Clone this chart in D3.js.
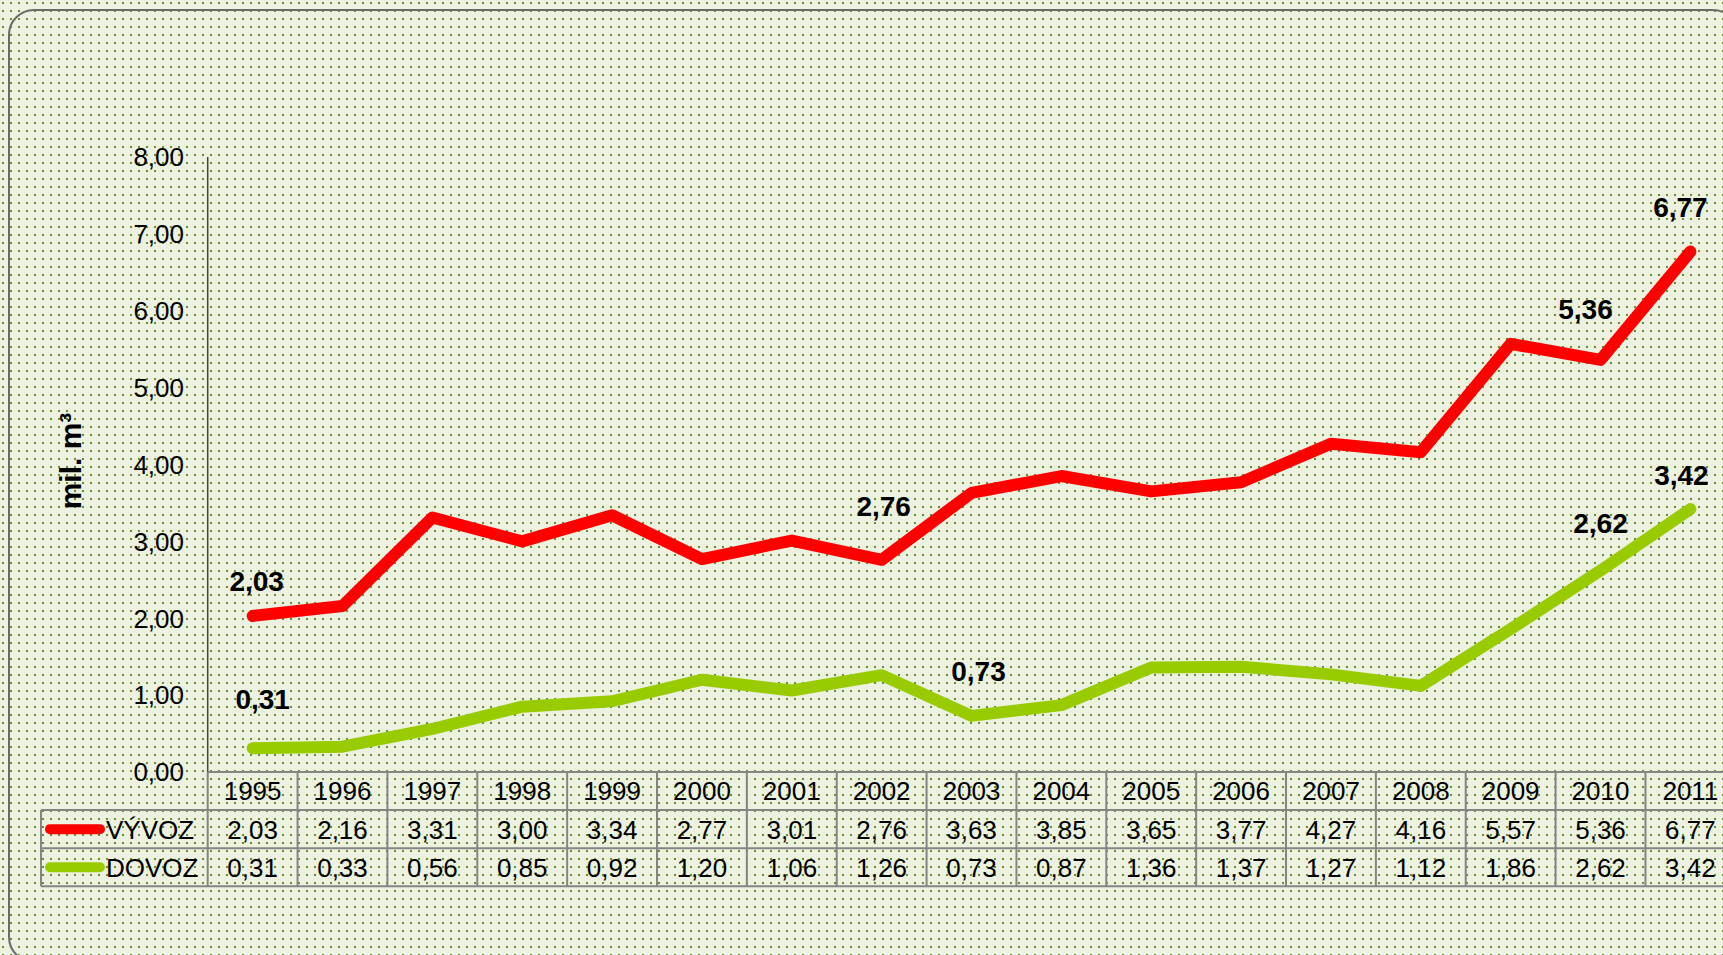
<!DOCTYPE html>
<html>
<head>
<meta charset="utf-8">
<script src="https://cdn.jsdelivr.net/npm/d3@7"></script>
<style>
  html, body { margin: 0; padding: 0; background: #ecf1e0; overflow: hidden; }
  svg { display: block; font-family: 'Liberation Sans', Arial, sans-serif; }
</style>
</head>
<body>
<div class="chart"></div>
<script>
const years = ['1995', '1996', '1997', '1998', '1999', '2000', '2001', '2002', '2003',
  '2004', '2005', '2006', '2007', '2008', '2009', '2010', '2011']
const vyvoz = [2.03, 2.16, 3.31, 3.00, 3.34, 2.77, 3.01, 2.76, 3.63, 3.85, 3.65, 3.77, 4.27, 4.16, 5.57, 5.36, 6.77]
const dovoz = [0.31, 0.33, 0.56, 0.85, 0.92, 1.20, 1.06, 1.26, 0.73, 0.87, 1.36, 1.37, 1.27, 1.12, 1.86, 2.62, 3.42]
const seriesNames = ['VÝVOZ', 'DOVOZ']
const yTicks = [0, 1, 2, 3, 4, 5, 6, 7, 8]
const yTitle = 'mil. m³'
// years that carry a bold value label, per series
const vyvozLabelYears = ['1995', '2002', '2010', '2011']
const dovozLabelYears = ['1995', '2003', '2010', '2011']

// label placement (hand-moved labels in the original), [dx, dy] from the point
const labelNudge = {
  'VÝVOZ-1995': [4, -35], 'VÝVOZ-2002': [2, -54], 'VÝVOZ-2010': [-15, -51], 'VÝVOZ-2011': [-10, -45],
  'DOVOZ-1995': [10, -49], 'DOVOZ-2003': [7, -45], 'DOVOZ-2010': [0, -48], 'DOVOZ-2011': [-9, -34]
}

const width = 1723
const height = 955
const plotLeft = 207.7
const colW = 89.86
const plotTop = 157
const plotBottom = 772
const rowH = 38.1
const fs = 26

const locale = d3.formatLocale({ decimal: ',', thousands: ' ', grouping: [3], currency: ['', ''] })
const fmt = locale.format('.2f')

const series = [
  { name: seriesNames[0], values: vyvoz, color: '#ff0000', labels: vyvozLabelYears },
  { name: seriesNames[1], values: dovoz, color: '#99cc00', labels: dovozLabelYears }
]

const x = d3.scaleBand().domain(years).range([plotLeft, plotLeft + colW * years.length]).padding(0)
const y = d3.scaleLinear().domain([0, 8]).range([plotBottom, plotTop])

const svg = d3.select('.chart').append('svg')
  .attr('width', width)
  .attr('height', height)

// dotted background
const pat = svg.append('defs').append('pattern')
  .attr('id', 'dots')
  .attr('patternUnits', 'userSpaceOnUse')
  .attr('width', 8)
  .attr('height', 8)
pat.append('rect').attr('width', 8).attr('height', 8).attr('fill', '#ecf1e0')
pat.append('rect').attr('x', 2).attr('y', 2).attr('width', 2).attr('height', 2).attr('fill', '#6b8c2e')

svg.append('rect')
  .attr('width', width)
  .attr('height', height)
  .attr('fill', 'url(#dots)')

svg.append('rect')
  .attr('x', 9)
  .attr('y', 10)
  .attr('width', 1729)
  .attr('height', 952)
  .attr('rx', 25)
  .attr('fill', 'none')
  .attr('stroke', '#6a6a6a')
  .attr('stroke-width', 2)

// y axis
const yAxis = svg.append('g')
yAxis.append('line')
  .attr('x1', plotLeft).attr('x2', plotLeft)
  .attr('y1', y(8)).attr('y2', y(0))
  .attr('stroke', '#444')
  .attr('stroke-width', 1.5)
yAxis.selectAll('text')
  .data(yTicks)
  .enter().append('text')
  .attr('x', 184)
  .attr('y', (d) => y(d) + fs * 0.36)
  .attr('text-anchor', 'end')
  .attr('font-size', fs)
  .text((d) => fmt(d))

svg.append('text')
  .attr('transform', 'translate(81,461) rotate(-90)')
  .attr('text-anchor', 'middle')
  .attr('font-size', 30)
  .attr('font-weight', 'bold')
  .text(yTitle)

// data table
const table = svg.append('g')
  .attr('stroke', '#858585')
  .attr('stroke-width', 2)
const tableRight = x.range()[1]
table.append('line')
  .attr('x1', plotLeft).attr('x2', tableRight)
  .attr('y1', plotBottom).attr('y2', plotBottom)
for (let r = 1; r <= 3; r++) {
  table.append('line')
    .attr('x1', 41).attr('x2', tableRight)
    .attr('y1', plotBottom + rowH * r).attr('y2', plotBottom + rowH * r)
}
table.append('line')
  .attr('x1', 41).attr('x2', 41)
  .attr('y1', plotBottom + rowH).attr('y2', plotBottom + rowH * 3)
table.selectAll('.col')
  .data(years)
  .enter().append('line')
  .attr('x1', (d) => x(d)).attr('x2', (d) => x(d))
  .attr('y1', plotBottom).attr('y2', plotBottom + rowH * 3)

const cellText = svg.append('g')
  .attr('font-size', fs)
  .attr('text-anchor', 'middle')
cellText.selectAll('.yr')
  .data(years)
  .enter().append('text')
  .attr('x', (d) => x(d) + x.bandwidth() / 2)
  .attr('y', plotBottom + rowH / 2 + fs * 0.36)
  .text((d) => d)

series.forEach((s, k) => {
  const rowY = plotBottom + rowH * (k + 1.5)
  cellText.selectAll('.v' + k)
    .data(s.values)
    .enter().append('text')
    .attr('x', (d, i) => x(years[i]) + x.bandwidth() / 2)
    .attr('y', rowY + fs * 0.36)
    .text((d) => fmt(d))

  svg.append('line')
    .attr('x1', 50).attr('x2', 100)
    .attr('y1', rowY).attr('y2', rowY)
    .attr('stroke', s.color)
    .attr('stroke-width', 10)
    .attr('stroke-linecap', 'round')
  svg.append('text')
    .attr('x', 106)
    .attr('y', rowY + fs * 0.36)
    .attr('font-size', fs)
    .text(s.name)
})

// lines
const line = d3.line()
  .x((d, i) => x(years[i]) + x.bandwidth() / 2)
  .y((d) => y(d))

series.forEach((s) => {
  svg.append('path')
    .datum(s.values)
    .attr('d', line)
    .attr('fill', 'none')
    .attr('stroke', s.color)
    .attr('stroke-width', 12)
    .attr('stroke-linecap', 'round')
    .attr('stroke-linejoin', 'round')

  svg.selectAll('.lbl-' + s.color.slice(1))
    .data(s.labels)
    .enter().append('text')
    .attr('x', (d) => x(d) + x.bandwidth() / 2 + labelNudge[s.name + '-' + d][0])
    .attr('y', (d) => y(s.values[years.indexOf(d)]) + labelNudge[s.name + '-' + d][1] + 28 * 0.36)
    .attr('text-anchor', 'middle')
    .attr('font-size', 28)
    .attr('font-weight', 'bold')
    .text((d) => fmt(s.values[years.indexOf(d)]))
})
</script>
</body>
</html>
